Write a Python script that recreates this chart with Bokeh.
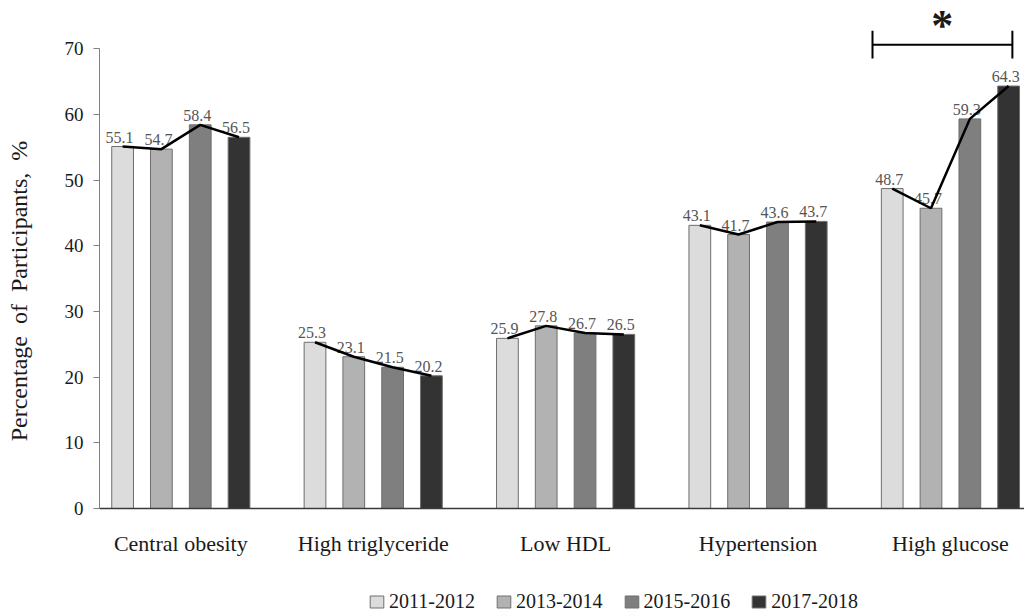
from bokeh.plotting import figure
from bokeh.models import Range1d, FixedTicker, ColumnDataSource, Legend, LegendItem, Span
from bokeh.core.properties import value
from bokeh.embed import file_html
from bokeh.resources import INLINE

categories = ["Central obesity", "High triglyceride", "Low HDL", "Hypertension", "High glucose"]
periods = ["2011-2012", "2013-2014", "2015-2016", "2017-2018"]
v2011 = [55.1, 25.3, 25.9, 43.1, 48.7]
v2013 = [54.7, 23.1, 27.8, 41.7, 45.7]
v2015 = [58.4, 21.5, 26.7, 43.6, 59.3]
v2017 = [56.5, 20.2, 26.5, 43.7, 64.3]
series = [v2011, v2013, v2015, v2017]
y_ticks = [0, 10, 20, 30, 40, 50, 60, 70]
y_label = "Percentage\u00a0\u00a0of\u00a0\u00a0Participants,\u00a0\u00a0%"
signif_group = "High glucose"
signif_mark = "*"

colors = ["#dcdcdc", "#b2b2b2", "#7f7f7f", "#333333"]
offsets = [-0.3025, -0.101, 0.101, 0.3025]
bar_w = 0.113
FONT = "Liberation Serif"

p = figure(width=1024, height=613, output_backend="svg", toolbar_location=None,
           x_range=Range1d(0.0774, 4.885), y_range=Range1d(-15.98, 75.8),
           min_border_left=99, min_border_right=0, min_border_top=10, min_border_bottom=0)
p.outline_line_color = None
p.grid.visible = False
p.background_fill_color = "white"
p.xaxis.visible = False

centers = [i + 0.5 for i in range(len(categories))]

# baseline (category axis line)
p.add_layout(Span(location=0, dimension="width", line_color="#3a3a3a", line_width=1.5))

legend_items = []
for j, vals in enumerate(series):
    xs = [c + offsets[j] for c in centers]
    src = ColumnDataSource(dict(x=xs, top=vals, lab=[f"{v:.1f}" for v in vals]))
    r = p.vbar(x="x", top="top", width=bar_w, source=src, fill_color=colors[j],
               line_color="#6e6e6e", line_width=1)
    legend_items.append(LegendItem(label=periods[j], renderers=[r]))
    p.text(x="x", y="top", text="lab", source=src, text_font=value(FONT),
           text_font_size="16px", text_color="#555555", text_align="center",
           text_baseline="bottom", y_offset=-4, x_offset=-3)

# category labels
p.text(x=centers, y=[0] * len(centers), text=categories, text_font=value(FONT),
       text_font_size="22px", text_color="#1a1a1a", text_align="center",
       text_baseline="top", y_offset=22)

# connecting lines
line_xs = [[c + o for o in offsets] for c in centers]
line_ys = [[s[i] for s in series] for i in range(len(categories))]
p.multi_line(xs=line_xs, ys=line_ys, line_color="black", line_width=2.5)

# significance bracket
gi = categories.index(signif_group)
gc = centers[gi]
bl, br, by, bh = gc - 0.405, gc + 0.322, 70.6, 2.1
p.segment(x0=[bl, bl, br], y0=[by, by - bh, by - bh], x1=[br, bl, br], y1=[by, by + bh, by + bh],
          line_color="black", line_width=2)
p.text(x=[gc - 0.042], y=[73.5], text=[signif_mark], text_font=value(FONT),
       text_font_size="44px", text_font_style="bold", text_color="#1a1a1a",
       text_align="center", text_baseline="middle")

# y axis
p.yaxis.ticker = FixedTicker(ticks=y_ticks)
p.yaxis.bounds = (0, 70)
p.yaxis.minor_tick_line_color = None
p.yaxis.major_tick_out = 6
p.yaxis.major_tick_in = 0
p.yaxis.axis_line_color = "#808080"
p.yaxis.major_tick_line_color = "#808080"
p.yaxis.major_label_text_font = FONT
p.yaxis.major_label_text_font_size = "19px"
p.yaxis.major_label_text_color = "#1a1a1a"
p.yaxis.major_label_standoff = 10
# leading no-break spaces lift the label so it centres on the 0-70 axis rather than the whole frame
p.yaxis.axis_label = "\u00a0" * 7 + y_label
p.yaxis.axis_label_text_font = FONT
p.yaxis.axis_label_text_font_size = "24px"
p.yaxis.axis_label_text_font_style = "normal"
p.yaxis.axis_label_text_color = "#1a1a1a"
p.yaxis.axis_label_standoff = 30

legend = Legend(items=legend_items, orientation="horizontal", location=(269, 0),
                label_text_font=FONT, label_text_font_size="20px", label_text_color="#1a1a1a",
                glyph_width=17, glyph_height=15, label_standoff=4, spacing=20,
                padding=0, margin=0, border_line_color=None, background_fill_alpha=0)
p.add_layout(legend, "center")

open("out.html", "w").write(file_html(p, INLINE))
